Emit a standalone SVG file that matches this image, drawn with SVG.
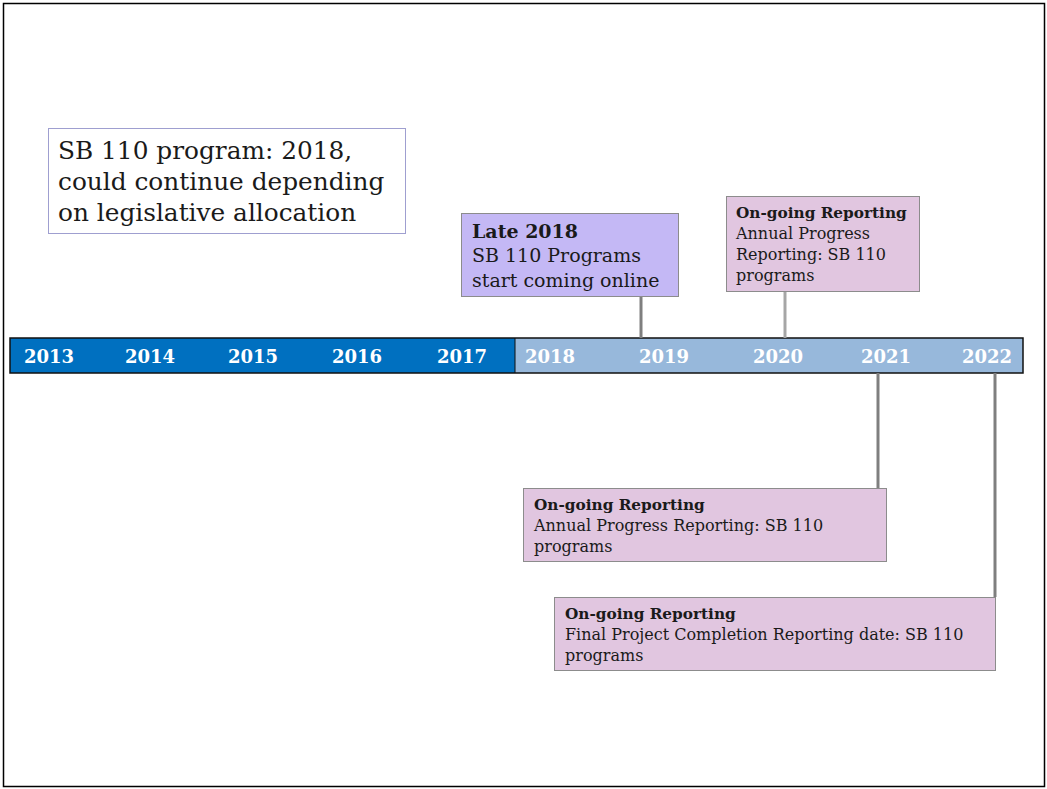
<svg xmlns="http://www.w3.org/2000/svg" width="1047" height="789" viewBox="0 0 1047 789">
<style>
.t{font-family:"DejaVu Serif","Liberation Serif",serif;fill:#1a1a1a}
.b{font-weight:bold}
.yr{font-family:"DejaVu Serif","Liberation Serif",serif;font-weight:bold;fill:#ffffff;font-size:18px;text-anchor:middle}
.box{stroke:#8c8c8c;stroke-width:1}
.c{stroke-width:3;fill:none}
</style>
<rect x="3.5" y="3.5" width="1041" height="783" fill="#ffffff" stroke="#000" stroke-width="1.5"/>
<g id="timeline">
<rect x="10" y="338" width="505" height="35" fill="#0070C0"/>
<rect x="515" y="338" width="508" height="35" fill="#97B8DB"/>
<rect x="10" y="338" width="1013" height="35" fill="none" stroke="#111" stroke-width="1.5"/>
<line x1="515" y1="338" x2="515" y2="373" stroke="#111" stroke-width="1"/>
<text class="yr" x="49" y="363">2013</text>
<text class="yr" x="150" y="363">2014</text>
<text class="yr" x="253" y="363">2015</text>
<text class="yr" x="357" y="363">2016</text>
<text class="yr" x="462" y="363">2017</text>
<text class="yr" x="550" y="363">2018</text>
<text class="yr" x="664" y="363">2019</text>
<text class="yr" x="778" y="363">2020</text>
<text class="yr" x="886" y="363">2021</text>
<text class="yr" x="987" y="363">2022</text>
</g>
<g id="connectors">
<line class="c" x1="641" y1="297" x2="641" y2="338" stroke="#7f7f7f"/>
<line class="c" x1="785" y1="291" x2="785" y2="338" stroke="#a6a6a6"/>
<line class="c" x1="878" y1="373" x2="878" y2="488" stroke="#7f7f7f"/>
<line class="c" x1="995" y1="373" x2="995" y2="597" stroke="#7f7f7f"/>
</g>
<g id="note">
<rect x="48.5" y="128.5" width="357" height="105" fill="#ffffff" stroke="#9f9fd0" stroke-width="1"/>
<text class="t" font-size="24.8" x="58" y="159">SB 110 program: 2018,</text>
<text class="t" font-size="24.8" x="58" y="190">could continue depending</text>
<text class="t" font-size="24.8" x="58" y="221">on legislative allocation</text>
</g>
<g id="late2018">
<rect class="box" x="461.5" y="213.5" width="217" height="83" fill="#C4B8F5"/>
<text class="t b" font-size="19" x="472" y="238">Late 2018</text>
<text class="t" font-size="19" x="472" y="262">SB 110 Programs</text>
<text class="t" font-size="19" x="472" y="287">start coming online</text>
</g>
<g id="reporting2020">
<rect class="box" x="726.5" y="196.5" width="193" height="95" fill="#E1C6E0"/>
<text class="t b" font-size="15.3" x="736" y="218">On-going Reporting</text>
<text class="t" font-size="16" x="736" y="239">Annual Progress</text>
<text class="t" font-size="16" x="736" y="260">Reporting: SB 110</text>
<text class="t" font-size="16" x="736" y="281">programs</text>
</g>
<g id="reporting2021">
<rect class="box" x="523.5" y="488.5" width="363" height="73" fill="#E1C6E0"/>
<text class="t b" font-size="15.3" x="534" y="510">On-going Reporting</text>
<text class="t" font-size="16" x="534" y="531">Annual Progress Reporting: SB 110</text>
<text class="t" font-size="16" x="534" y="552">programs</text>
</g>
<g id="reporting2022">
<rect class="box" x="554.5" y="597.5" width="441" height="73" fill="#E1C6E0"/>
<text class="t b" font-size="15.3" x="565" y="619">On-going Reporting</text>
<text class="t" font-size="16" x="565" y="640">Final Project Completion Reporting date: SB 110</text>
<text class="t" font-size="16" x="565" y="661">programs</text>
</g>
</svg>
